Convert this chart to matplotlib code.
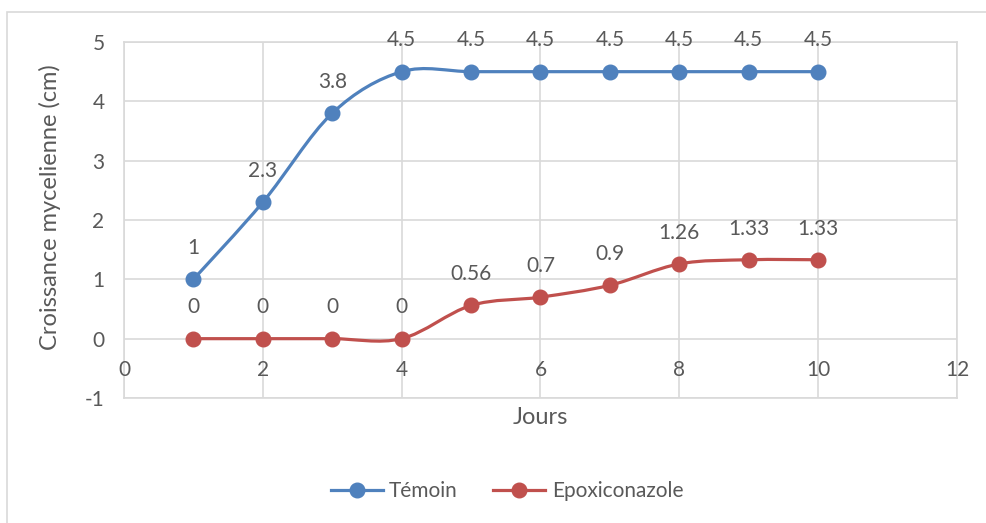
import numpy as np
import matplotlib.pyplot as plt
from matplotlib.path import Path
from matplotlib.patches import PathPatch, Rectangle
from matplotlib.lines import Line2D

# DONNEES
jours = [1, 2, 3, 4, 5, 6, 7, 8, 9, 10]
temoin = [1, 2.3, 3.8, 4.5, 4.5, 4.5, 4.5, 4.5, 4.5, 4.5]
epoxi = [0, 0, 0, 0, 0.56, 0.7, 0.9, 1.26, 1.33, 1.33]
temoin_lbl = ['1', '2.3', '3.8', '4.5', '4.5', '4.5', '4.5', '4.5', '4.5', '4.5']
epoxi_lbl = ['0', '0', '0', '0', '0.56', '0.7', '0.9', '1.26', '1.33', '1.33']
xticks = [0, 2, 4, 6, 8, 10, 12]
yticks = [-1, 0, 1, 2, 3, 4, 5]

BLEU = '#4F81BD'
ROUGE = '#C0504D'
GRIS = '#595959'
GRILLE = '#D9D9D9'
TAILLE = 15

plt.rcParams['font.family'] = ['Lato', 'DejaVu Sans']
plt.rcParams['axes.unicode_minus'] = False


def courbe_lisse(x, y):
    # lissage type Excel (Catmull-Rom en Bezier cubique)
    p = np.column_stack([x, y]).astype(float)
    n = len(p)
    verts = [p[0]]
    codes = [Path.MOVETO]
    for i in range(n - 1):
        p0 = p[i - 1] if i > 0 else p[i]
        p3 = p[i + 2] if i + 2 < n else p[i + 1]
        c1 = p[i] + (p[i + 1] - p0) / 6
        c2 = p[i + 1] - (p3 - p[i]) / 6
        verts += [c1, c2, p[i + 1]]
        codes += [Path.CURVE4] * 3
    return Path(verts, codes)


fig = plt.figure(figsize=(9.87, 5.23), dpi=100)
ax = fig.add_axes([124/987, 1 - 398/523, (957 - 124)/987, (398 - 42)/523])

# cadre exterieur
fig.patches.append(Rectangle((7.5/987, -0.01), 1.0, 1 - 12/523 + 0.01,
                             transform=fig.transFigure, fill=False,
                             edgecolor=GRILLE, linewidth=1.2))

for y, lbl, col in [(temoin, temoin_lbl, BLEU), (epoxi, epoxi_lbl, ROUGE)]:
    ax.add_patch(PathPatch(courbe_lisse(jours, y), fill=False, edgecolor=col,
                           linewidth=2.3, capstyle='round', zorder=3))
    ax.plot(jours, y, 'o', color=col, markersize=10.5, zorder=4)
    for xi, yi, t in zip(jours, y, lbl):
        ax.annotate(t, (xi, yi), xytext=(0, 22.5), textcoords='offset points',
                    ha='center', va='center', fontsize=TAILLE, color=GRIS)

ax.set_xlim(0, 12)
ax.set_ylim(-1, 5)
ax.set_yticks(yticks)
ax.set_xticks(xticks)
ax.set_xticklabels([])
ax.tick_params(axis='both', length=0, labelsize=TAILLE, labelcolor=GRIS)
ax.tick_params(axis='y', pad=14)
for xt in xticks:
    ax.annotate(str(xt), (xt, 0), xytext=(0, -22.5), textcoords='offset points',
                ha='center', va='center', fontsize=TAILLE, color=GRIS,
                annotation_clip=False)
ax.grid(True, color=GRILLE, linewidth=1.2)
ax.set_axisbelow(True)
for s in ax.spines.values():
    s.set_color(GRILLE)
    s.set_linewidth(1.2)

ax.set_xlabel('Jours', fontsize=17, color=GRIS, labelpad=3)
fig.text(50/987, 1 - 207/523, 'Croissance mycelienne (cm)', rotation=90,
         ha='center', va='center', fontsize=17, color=GRIS)

handles = [Line2D([], [], color=BLEU, marker='o', markersize=10.5, linewidth=2.3),
           Line2D([], [], color=ROUGE, marker='o', markersize=10.5, linewidth=2.3)]
fig.legend(handles, ['Témoin', 'Epoxiconazole'], loc='center',
           bbox_to_anchor=(507/987, 1 - 491/523), ncol=2, frameon=False,
           fontsize=TAILLE, labelcolor=GRIS, handlelength=2.5, columnspacing=1.7,
           handletextpad=0.3)

plt.savefig('out.png', dpi=100)
